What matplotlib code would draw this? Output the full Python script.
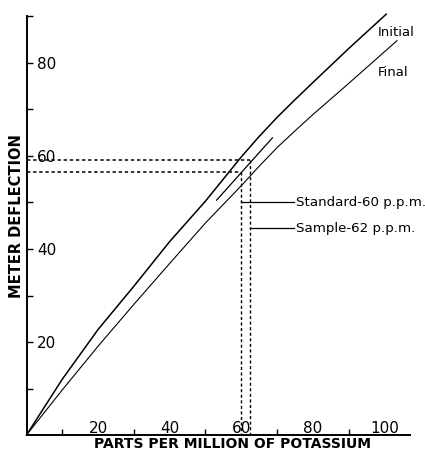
import matplotlib
matplotlib.use('Agg')
import matplotlib.pyplot as plt
from matplotlib.ticker import FixedLocator

initial_ppm = [0, 10, 20, 30, 40, 50, 60, 65, 70, 75, 80, 90, 100.5]
initial_defl = [0, 12.0, 22.7, 32.0, 41.6, 50.3, 59.8, 64.2, 68.3, 72.1, 75.8, 83.1, 90.5]
final_ppm = [0, 10, 20, 30, 40, 50, 60, 65, 70, 75, 80, 90, 103.5]
final_defl = [0, 9.7, 19.1, 28.1, 36.9, 45.6, 53.6, 57.8, 61.8, 65.4, 68.9, 75.6, 84.8]
mid_ppm = [53.1, 68.7]
mid_defl = [50.5, 63.9]

read_ppm = [60, 62.5]          # standard, sample
read_defl = [56.6, 59.1]
read_labels = ["Standard-60 p.p.m.", "Sample-62 p.p.m."]
leader_defl = [50.1, 44.5]

x_major = [20, 40, 60, 80, 100]
x_minor = [10, 30, 50, 70, 90]
y_major = [20, 40, 60, 80]
y_minor = [10, 30, 50, 70, 90]

fig = plt.figure(figsize=(4.25, 4.51), dpi=100)
ax = fig.add_axes([26.5/425, 16/451, 383/425, 418.5/451])
ax.set_xlim(0, 107)
ax.set_ylim(0, 90)

ax.plot(initial_ppm, initial_defl, color='k', lw=1.1, clip_on=False)
ax.plot(final_ppm, final_defl, color='k', lw=0.8, clip_on=False)
ax.plot(mid_ppm, mid_defl, color='k', lw=0.9)

# dashed read-off lines
for p, d in zip(read_ppm, read_defl):
    ax.plot([0, p], [d, d], color='k', lw=1.1, dashes=(2.2, 1.8))
    ax.plot([p, p], [d, 0], color='k', lw=1.0, dashes=(2.2, 1.8))
for p, d, lab in zip(read_ppm, leader_defl, read_labels):
    ax.plot([p, 74.6], [d, d], color='k', lw=0.9)
    ax.text(75.2, d, lab, fontsize=9.6, va='center', ha='left')

ax.text(98, 86.5, 'Initial', fontsize=9.5, va='center', ha='left')
ax.text(98, 78, 'Final', fontsize=9.5, va='center', ha='left')

for s in ['top', 'right']:
    ax.spines[s].set_visible(False)
for s in ['left', 'bottom']:
    ax.spines[s].set_linewidth(1.4)

ax.xaxis.set_major_locator(FixedLocator(x_major))
ax.xaxis.set_minor_locator(FixedLocator(x_minor))
ax.yaxis.set_major_locator(FixedLocator(y_major))
ax.yaxis.set_minor_locator(FixedLocator(y_minor))
ax.set_xticklabels([str(v) for v in x_major])
ax.set_yticklabels([str(v) for v in y_major])

ax.tick_params(axis='both', which='both', direction='in', length=4, width=1)
ax.tick_params(axis='x', which='major', length=0, pad=-1.5, labelsize=11)
ax.tick_params(axis='y', which='major', pad=-7.6, labelsize=11)
plt.setp(ax.get_xticklabels(), va='baseline')
plt.setp(ax.get_yticklabels(), ha='left')

fig.text(17/425, 1 - 216/451, 'METER DEFLECTION', rotation=90, fontweight='bold',
         fontsize=10.5, ha='center', va='center')
fig.text(232/425, 1 - 437/451, 'PARTS PER MILLION OF POTASSIUM', fontweight='bold',
         fontsize=10, ha='center', va='top')

fig.savefig('out.png', dpi=100)
